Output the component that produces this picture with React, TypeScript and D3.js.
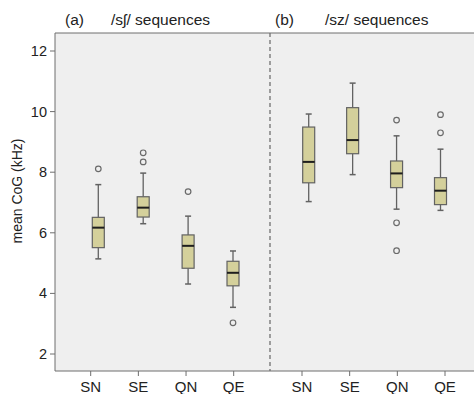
import * as d3 from "d3";

// category labels on the x axis of each panel
const categories = ["SN", "SE", "QN", "QE"];
const yTicks = [2, 4, 6, 8, 10, 12];

// five-number summaries: [lowWhisker, q1, median, q3, highWhisker]
const shSummary = [
  [5.14, 5.51, 6.17, 6.51, 7.59],
  [6.3, 6.52, 6.83, 7.19, 7.97],
  [4.31, 4.83, 5.57, 5.93, 6.55],
  [3.54, 4.25, 4.68, 5.06, 5.4],
];
const shOutliers = [[8.11], [8.64, 8.34], [7.36], [3.03]];

const szSummary = [
  [7.03, 7.65, 8.34, 9.49, 9.92],
  [7.92, 8.61, 9.06, 10.13, 10.94],
  [6.78, 7.49, 7.96, 8.37, 9.2],
  [6.74, 6.93, 7.39, 7.82, 8.76],
];
const szOutliers = [[], [], [9.72, 6.33, 5.41], [9.9, 9.3]];

const panels = [
  { tag: "(a)", title: "/sʃ/ sequences", summary: shSummary, outliers: shOutliers },
  { tag: "(b)", title: "/sz/ sequences", summary: szSummary, outliers: szOutliers },
];

const W = 474;
const H = 394;
const plot = { left: 55, right: 474, top: 33, bottom: 371 };
const divider = 270;
const font = "Arial, 'Liberation Sans', sans-serif";
const frameColor = "#6e6e6e";
const boxFill = "#d4d09b";
const boxStroke = "#626262";

const y = d3.scaleLinear().domain([2, 12]).range([354, 51]);

// tick positions and box positions (the boxes sit slightly off their ticks in the original)
const tickScales = [
  d3.scalePoint<string>().domain(categories).range([90.7, 233.7]),
  d3.scalePoint<string>().domain(categories).range([302, 445]),
];
const boxScales = [
  d3.scalePoint<string>().domain(categories).range([98.3, 233]),
  d3.scalePoint<string>().domain(categories).range([308.7, 440.5]),
];
const titleX = [
  { tag: 65, title: 111 },
  { tag: 275, title: 325 },
];

const boxW = 12;
const capW = 6;

export default function App() {
  return (
    <svg
      width={W}
      height={H}
      style={{ position: "absolute", left: 0, top: 0, background: "#fff" }}
      fontFamily={font}
    >
      <rect
        x={plot.left}
        y={plot.top}
        width={plot.right - plot.left}
        height={plot.bottom - plot.top}
        fill="#efefef"
      />
      {/* frame */}
      <line x1={plot.left} x2={plot.right} y1={plot.top} y2={plot.top} stroke={frameColor} />
      <line x1={plot.left} x2={plot.right} y1={plot.bottom} y2={plot.bottom} stroke={frameColor} />
      <line x1={plot.left} x2={plot.left} y1={plot.top} y2={plot.bottom} stroke={frameColor} />
      <line
        x1={divider}
        x2={divider}
        y1={plot.top}
        y2={plot.bottom}
        stroke="#707070"
        strokeWidth={1.3}
        strokeDasharray="4,3"
      />

      {/* y axis */}
      {yTicks.map((t) => (
        <g key={t} transform={`translate(${plot.left}, ${y(t)})`}>
          <line x1={-5} x2={0} stroke={frameColor} />
          <text x={-8} dy="0.35em" textAnchor="end" fontSize={14.5} fill="#222">
            {t}
          </text>
        </g>
      ))}
      <text
        transform={`translate(22, 191) rotate(-90)`}
        textAnchor="middle"
        fontSize={14}
        fill="#222"
      >
        mean CoG (kHz)
      </text>

      {panels.map((p, pi) => {
        const tick = tickScales[pi];
        const pos = boxScales[pi];
        return (
          <g key={p.tag}>
            <text x={titleX[pi].tag} y={25} fontSize={15.5} fill="#222">
              {p.tag}
            </text>
            <text x={titleX[pi].title} y={25} fontSize={15.5} fill="#222">
              {p.title}
            </text>

            {categories.map((c) => (
              <g key={c} transform={`translate(${tick(c)}, ${plot.bottom})`}>
                <line y1={0} y2={5} stroke={frameColor} />
                <text y={21} textAnchor="middle" fontSize={15} fill="#222">
                  {c}
                </text>
              </g>
            ))}

            {categories.map((c, ci) => {
              const [lo, q1, med, q3, hi] = p.summary[ci];
              const cx = pos(c) ?? 0;
              return (
                <g key={c}>
                  <line x1={cx} x2={cx} y1={y(hi)} y2={y(q3)} stroke={boxStroke} strokeWidth={1.3} />
                  <line x1={cx} x2={cx} y1={y(q1)} y2={y(lo)} stroke={boxStroke} strokeWidth={1.3} />
                  <line
                    x1={cx - capW / 2}
                    x2={cx + capW / 2}
                    y1={y(hi)}
                    y2={y(hi)}
                    stroke={boxStroke}
                    strokeWidth={1.5}
                  />
                  <line
                    x1={cx - capW / 2}
                    x2={cx + capW / 2}
                    y1={y(lo)}
                    y2={y(lo)}
                    stroke={boxStroke}
                    strokeWidth={1.5}
                  />
                  <rect
                    x={cx - boxW / 2}
                    y={y(q3)}
                    width={boxW}
                    height={y(q1) - y(q3)}
                    fill={boxFill}
                    stroke={boxStroke}
                    strokeWidth={1.2}
                  />
                  <line
                    x1={cx - boxW / 2}
                    x2={cx + boxW / 2}
                    y1={y(med)}
                    y2={y(med)}
                    stroke="#1e1e1e"
                    strokeWidth={2}
                  />
                  {p.outliers[ci].map((o, oi) => (
                    <circle
                      key={oi}
                      cx={cx}
                      cy={y(o)}
                      r={2.8}
                      fill="none"
                      stroke="#6a6a6a"
                      strokeWidth={1.2}
                    />
                  ))}
                </g>
              );
            })}
          </g>
        );
      })}
    </svg>
  );
}
